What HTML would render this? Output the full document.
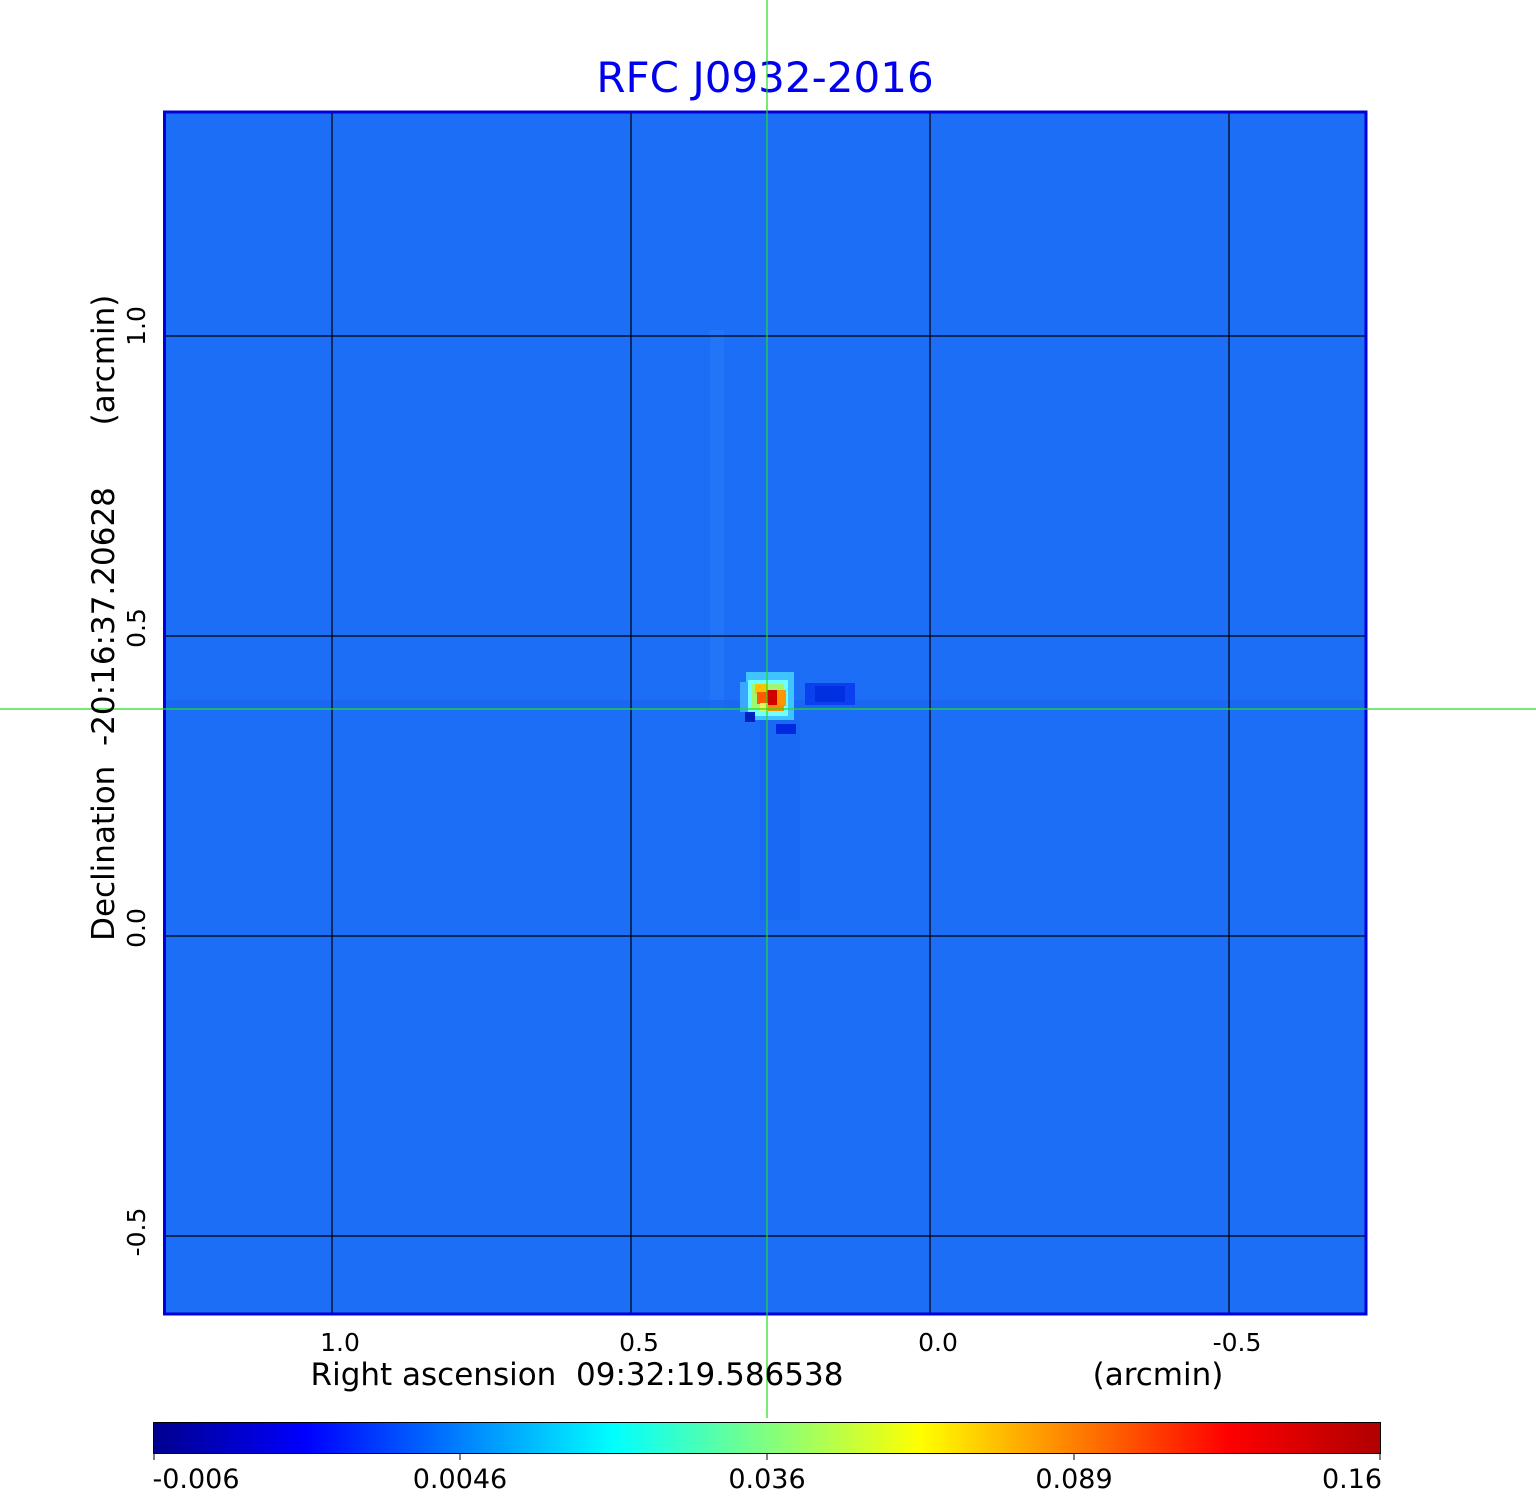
<!DOCTYPE html>
<html><head><meta charset="utf-8"><style>
body{margin:0;background:#fff;width:1536px;height:1511px;overflow:hidden;font-family:"DejaVu Sans","Liberation Sans",sans-serif;}
text{white-space:pre;}
</style></head><body>
<svg width="1536" height="1511" xmlns="http://www.w3.org/2000/svg" style="position:absolute;left:0;top:0">
<defs>
<linearGradient id="jet" x1="0" x2="1" y1="0" y2="0">
<stop offset="0" stop-color="#00008f"/>
<stop offset="0.125" stop-color="#0000ff"/>
<stop offset="0.25" stop-color="#0080ff"/>
<stop offset="0.375" stop-color="#00ffff"/>
<stop offset="0.5" stop-color="#80ff80"/>
<stop offset="0.625" stop-color="#ffff00"/>
<stop offset="0.75" stop-color="#ff8000"/>
<stop offset="0.875" stop-color="#ff0000"/>
<stop offset="1" stop-color="#b00000"/>
</linearGradient>
</defs>
<text x="765" y="92" font-size="42" fill="#0000ee" text-anchor="middle" font-family="DejaVu Sans, sans-serif">RFC J0932-2016</text>
<rect x="165" y="113" width="1200" height="1200" fill="#1c6ef6"/>
<rect x="710" y="330" width="14" height="380" fill="#2a80f8" opacity="0.4"/>
<rect x="165" y="700" width="1200" height="8" fill="#1660f0" opacity="0.5"/>
<rect x="760" y="720" width="40" height="200" fill="#1860f0" opacity="0.3"/>
<g shape-rendering="crispEdges">
<rect x="746" y="672" width="48" height="48" fill="#3fc4ff"/>
<rect x="740" y="682" width="12" height="30" fill="#3aa8ff"/>
<rect x="748" y="680" width="40" height="36" fill="#6effff"/>
<rect x="752" y="684" width="32" height="26" fill="#a0f870"/>
<rect x="755" y="684" width="12" height="10" fill="#ffc000"/>
<rect x="757" y="692" width="10" height="12" fill="#ff5a00"/>
<rect x="767" y="690" width="10" height="16" fill="#d00000"/>
<rect x="777" y="690" width="9" height="16" fill="#ff9500"/>
<rect x="760" y="703" width="8" height="8" fill="#e8f060"/>
<rect x="768" y="705" width="16" height="6" fill="#ff8a00"/>
<rect x="745" y="712" width="10" height="10" fill="#0020c0"/>
<rect x="776" y="724" width="20" height="10" fill="#0028e0"/>
<rect x="805" y="683" width="50" height="22" fill="#0a40f0"/>
<rect x="815" y="686" width="30" height="16" fill="#0030e0"/>
</g>
<g stroke="#000" stroke-width="1.2">
<line x1="332" y1="113" x2="332" y2="1313"/>
<line x1="631" y1="113" x2="631" y2="1313"/>
<line x1="930" y1="113" x2="930" y2="1313"/>
<line x1="1229" y1="113" x2="1229" y2="1313"/>
<line x1="165" y1="336" x2="1365" y2="336"/>
<line x1="165" y1="636" x2="1365" y2="636"/>
<line x1="165" y1="936" x2="1365" y2="936"/>
<line x1="165" y1="1236" x2="1365" y2="1236"/>
</g>
<rect x="164.5" y="112" width="1201.5" height="1202" fill="none" stroke="#0000dd" stroke-width="3"/>
<line x1="767" y1="0" x2="767" y2="1418" stroke="#20dd20" stroke-width="1.2"/>
<line x1="0" y1="709" x2="1536" y2="709" stroke="#20dd20" stroke-width="1.2"/>
<g font-size="25" fill="#000" text-anchor="middle">
<text x="340" y="1351">1.0</text>
<text x="639" y="1351">0.5</text>
<text x="938" y="1351">0.0</text>
<text x="1237" y="1351">-0.5</text>
</g>
<text x="577" y="1385" font-size="31" text-anchor="middle">Right ascension  09:32:19.586538</text>
<text x="1158" y="1385" font-size="31" text-anchor="middle">(arcmin)</text>
<g font-size="25" fill="#000" text-anchor="middle">
<text transform="translate(145,326) rotate(-90)">1.0</text>
<text transform="translate(145,628) rotate(-90)">0.5</text>
<text transform="translate(145,928) rotate(-90)">0.0</text>
<text transform="translate(145,1232) rotate(-90)">-0.5</text>
</g>
<text transform="translate(114,714) rotate(-90)" font-size="31" text-anchor="middle">Declination  -20:16:37.20628</text>
<text transform="translate(114,360) rotate(-90)" font-size="31" text-anchor="middle">(arcmin)</text>
<rect x="153.5" y="1422.5" width="1227" height="31" fill="url(#jet)" stroke="#000" stroke-width="1"/>
<g stroke="#000" stroke-width="1">
<line x1="154" y1="1453" x2="154" y2="1460"/>
<line x1="460" y1="1453" x2="460" y2="1460"/>
<line x1="767" y1="1453" x2="767" y2="1460"/>
<line x1="1074" y1="1453" x2="1074" y2="1460"/>
<line x1="1380" y1="1453" x2="1380" y2="1460"/>
</g>
<g font-size="27" fill="#000" text-anchor="middle">
<text x="196" y="1488">-0.006</text>
<text x="460" y="1488">0.0046</text>
<text x="767" y="1488">0.036</text>
<text x="1074" y="1488">0.089</text>
<text x="1352" y="1488">0.16</text>
</g>
</svg>
</body></html>
